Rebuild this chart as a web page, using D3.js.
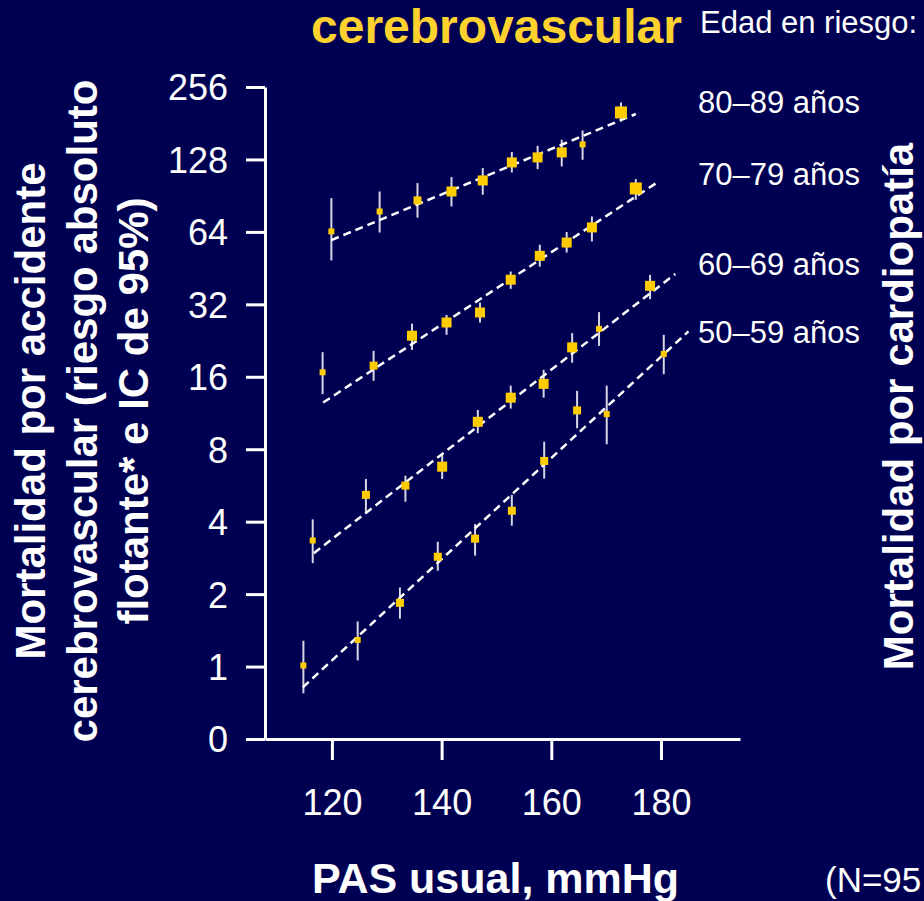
<!DOCTYPE html>
<html>
<head>
<meta charset="utf-8">
<script src="https://cdn.jsdelivr.net/npm/d3@7"></script>
<style>
  html, body { margin: 0; padding: 0; background: #000052; }
  svg { display: block; }
  text { font-family: "Liberation Sans", Arial, sans-serif; }
</style>
</head>
<body>
<div id="chart"></div>
<script>
// age groups, top line first
const ageGroups = ["80–89 años", "70–79 años", "60–69 años", "50–59 años"];

// usual systolic blood pressure (mmHg) for each point, per age group
const sbp = [
    [119.9, 128.7, 135.6, 141.8, 147.5, 152.8, 157.5, 161.9, 165.7, 172.7],
    [118.3, 127.6, 134.6, 140.9, 147.0, 152.6, 157.9, 162.8, 167.4, 175.4],
    [116.5, 126.2, 133.4, 140.1, 146.6, 152.6, 158.6, 163.8, 168.7, 178.0],
    [114.8, 124.7, 132.4, 139.3, 146.1, 152.8, 158.7, 164.7, 170.1, 180.5]
];

// floating absolute risk
const risk = [
    [64.3, 77.8, 86.5, 94.2, 104.7, 124.4, 130.5, 136.9, 147.8, 200.7],
    [16.7, 17.8, 23.7, 26.9, 29.6, 40.5, 50.9, 57.8, 66.8, 97.0],
    [3.34, 5.17, 5.65, 6.77, 10.4, 13.1, 14.95, 21.2, 25.3, 38.2],
    [1.01, 1.29, 1.84, 2.86, 3.4, 4.44, 7.15, 11.6, 11.2, 19.9]
];

// 95% CI lower / upper bounds
const ciLow = [
    [48.7, 63.6, 73.3, 81.6, 91.3, 113.0, 116.7, 119.7, 127.6, 184.2],
    [13.55, 15.4, 20.7, 23.9, 26.9, 37.1, 45.9, 52.5, 58.4, 87.0],
    [2.69, 4.33, 4.84, 6.02, 9.33, 11.8, 13.1, 18.3, 21.5, 33.6],
    [0.774, 1.06, 1.58, 2.5, 2.89, 3.85, 6.04, 9.78, 8.39, 16.4]
];
const ciHigh = [
    [88.4, 94.2, 102.1, 108.1, 117.9, 137.4, 145.9, 154.5, 168.9, 220.8],
    [20.25, 20.5, 26.6, 28.9, 32.5, 43.8, 56.6, 63.9, 74.2, 106.1],
    [4.09, 6.02, 6.21, 7.7, 11.65, 14.7, 17.1, 24.3, 29.7, 42.4],
    [1.28, 1.54, 2.13, 3.3, 3.91, 5.17, 8.6, 13.98, 14.7, 23.9]
];

// relative amount of information behind each point (1 = least, 4 = most)
const weight = [
    [1, 1, 2, 3, 3, 3, 3, 3, 1, 4],
    [1, 2, 3, 3, 3, 3, 3, 3, 3, 4],
    [1, 2, 2, 3, 3, 3, 3, 3, 1, 3],
    [1, 1, 2, 2, 2, 2, 2, 2, 1, 1]
];

// fitted regression line per group: [sbp start, risk start, sbp end, risk end]
const fitLines = [
    [119.9, 59.2, 175.4, 197.7],
    [118.4, 12.5, 179.3, 102.7],
    [116.7, 2.96, 182.6, 42.8],
    [114.7, 0.82, 185.0, 24.7]
];

const xTicks = [120, 140, 160, 180];
const yTicks = [0.5, 1, 2, 4, 8, 16, 32, 64, 128, 256];
const yTickLabels = ["0", "1", "2", "4", "8", "16", "32", "64", "128", "256"];

const width = 924, height = 901;
const bg = "#000052";

const svg = d3.select("#chart")
    .append("svg")
    .attr("width", width)
    .attr("height", height);

svg.append("rect")
    .attr("width", width)
    .attr("height", height)
    .attr("fill", bg);

const x = d3.scaleLinear()
    .domain([107.8, 194.4])
    .range([265, 740]);

const y = d3.scaleLog()
    .base(2)
    .domain([0.5, 256])
    .range([739, 87]);

const size = d3.scaleLinear()
    .domain([1, 4])
    .range([6, 12]);

// axes
const yAxis = svg.append("g")
    .attr("transform", "translate(265,0)")
    .call(d3.axisLeft(y)
        .tickValues(yTicks)
        .tickFormat((d, i) => yTickLabels[i])
        .tickSize(19)
        .tickSizeOuter(0)
        .tickPadding(18));

const xAxis = svg.append("g")
    .attr("transform", "translate(0,739)")
    .call(d3.axisBottom(x)
        .tickValues(xTicks)
        .tickFormat(d3.format("d"))
        .tickSize(21)
        .tickSizeOuter(0));

[yAxis, xAxis].forEach(g => {
    g.select(".domain").attr("stroke", "#fff").attr("stroke-width", 3);
    g.selectAll(".tick line").attr("stroke", "#fff").attr("stroke-width", 3);
    g.selectAll(".tick text")
        .attr("fill", "#fff")
        .style("font-size", "36px")
        .style("font-family", "'Liberation Sans', Arial, sans-serif");
});
yAxis.selectAll(".tick text").attr("dy", "0.36em");
xAxis.selectAll(".tick text").attr("y", 76).attr("dy", 0);

// build point rows from the arrays
const points = [];
ageGroups.forEach((g, gi) => {
    sbp[gi].forEach((s, i) => {
        points.push({ group: g, sbp: s, risk: risk[gi][i], lo: ciLow[gi][i], hi: ciHigh[gi][i], w: weight[gi][i] });
    });
});

const plot = svg.append("g");

// confidence intervals
plot.selectAll(".ci")
    .data(points)
    .join("line")
    .attr("class", "ci")
    .attr("x1", d => x(d.sbp))
    .attr("x2", d => x(d.sbp))
    .attr("y1", d => y(d.lo))
    .attr("y2", d => y(d.hi))
    .attr("stroke", "#d6d6e6")
    .attr("stroke-width", 2);

// fitted lines
plot.selectAll(".fit")
    .data(fitLines)
    .join("line")
    .attr("class", "fit")
    .attr("x1", d => x(d[0]))
    .attr("y1", d => y(d[1]))
    .attr("x2", d => x(d[2]))
    .attr("y2", d => y(d[3]))
    .attr("stroke", "#fff")
    .attr("stroke-width", 2.5)
    .attr("stroke-dasharray", "8,5");

// squares
plot.selectAll(".pt")
    .data(points)
    .join("rect")
    .attr("class", "pt")
    .attr("x", d => x(d.sbp) - size(d.w) / 2)
    .attr("y", d => y(d.risk) - size(d.w) / 2)
    .attr("width", d => size(d.w))
    .attr("height", d => size(d.w))
    .attr("fill", "#ffcc00");

// title
svg.append("text")
    .attr("x", 311)
    .attr("y", 43)
    .attr("fill", "#ffd22e")
    .style("font-size", "48px")
    .style("font-weight", "bold")
    .text("cerebrovascular");

svg.append("text")
    .attr("x", 700)
    .attr("y", 33)
    .attr("fill", "#fff")
    .style("font-size", "31px")
    .text("Edad en riesgo:");

// age labels next to the line ends
const labelY = [113, 185, 275, 343];
svg.selectAll(".age")
    .data(ageGroups)
    .join("text")
    .attr("class", "age")
    .attr("x", 698)
    .attr("y", (d, i) => labelY[i])
    .attr("fill", "#fff")
    .style("font-size", "31px")
    .text(d => d);

// left axis title, three lines
const yTitle = ["Mortalidad por accidente", "cerebrovascular (riesgo absoluto", "flotante* e IC de 95%)"];
const yTitleX = [45, 97, 148];
svg.selectAll(".ytitle")
    .data(yTitle)
    .join("text")
    .attr("class", "ytitle")
    .attr("transform", (d, i) => `translate(${yTitleX[i]},411) rotate(-90)`)
    .attr("text-anchor", "middle")
    .attr("fill", "#fff")
    .style("font-size", "42px")
    .style("font-weight", "bold")
    .text(d => d);

// right title (next panel)
svg.append("text")
    .attr("transform", "translate(913,406.5) rotate(-90)")
    .attr("text-anchor", "middle")
    .attr("fill", "#fff")
    .style("font-size", "42px")
    .style("font-weight", "bold")
    .text("Mortalidad por cardiopatía");

// x axis title
svg.append("text")
    .attr("x", 495.5)
    .attr("y", 893)
    .attr("text-anchor", "middle")
    .attr("fill", "#fff")
    .style("font-size", "43px")
    .style("font-weight", "bold")
    .text("PAS usual, mmHg");

svg.append("text")
    .attr("x", 825)
    .attr("y", 892)
    .attr("fill", "#fff")
    .style("font-size", "35px")
    .text("(N=95");
</script>
</body>
</html>
